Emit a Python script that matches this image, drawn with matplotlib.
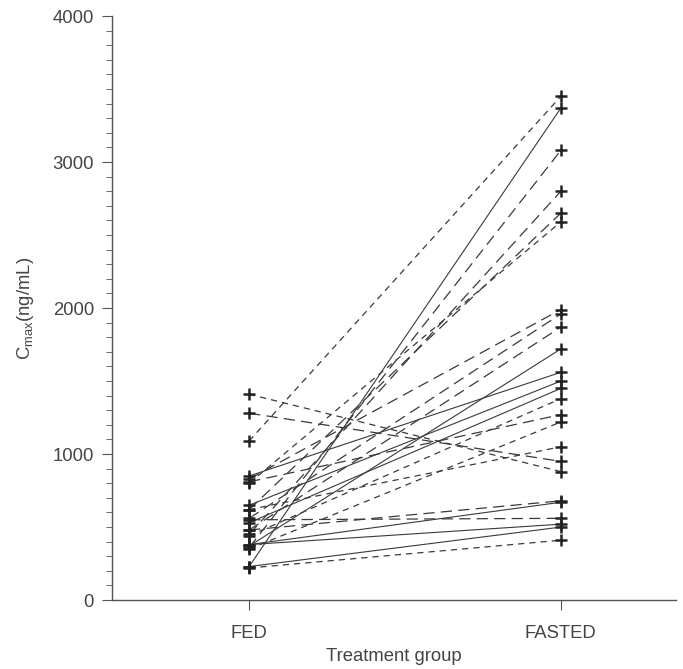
import matplotlib
matplotlib.use("Agg")
import matplotlib.pyplot as plt
from matplotlib.ticker import MultipleLocator

groups = ["FED", "FASTED"]
fed = [1090, 230, 360, 450, 620, 800, 830, 560, 480, 370, 850, 650, 530,
       440, 810, 350, 620, 1280, 1410, 480, 380, 550, 380, 230, 220]
fasted = [3450, 3370, 3080, 2800, 2650, 2590, 1990, 1960, 1870, 1720, 1560,
          1500, 1450, 1380, 1270, 1220, 1050, 950, 880, 680, 670, 560, 520,
          500, 410]
styles = ["short", "solid", "long", "long", "long", "short", "long", "long",
          "long", "solid", "solid", "solid", "solid", "short", "long", "short",
          "short", "long", "short", "long", "solid", "long", "solid", "solid",
          "short"]

plt.rcParams['font.family'] = ['Liberation Sans', 'DejaVu Sans']
fig = plt.figure(figsize=(6.83, 6.69), dpi=100)
ax = fig.add_axes([0.164, 0.103, 0.826, 0.873])

dash_map = {"solid": "-", "short": (0, (5, 4)), "long": (0, (9, 5))}
for a, b, s in zip(fed, fasted, styles):
    ax.plot([0, 1], [a, b], linestyle=dash_map[s], color="#3a3a3a",
            lw=0.8 if s == "solid" else 0.9, zorder=2)
ax.plot([0] * len(fed), fed, '+', color="#222222", ms=8, mew=1.8, zorder=3)
ax.plot([1] * len(fasted), fasted, '+', color="#222222", ms=8, mew=1.8, zorder=3)

ax.set_xlim(-0.44, 1.37)
ax.set_ylim(0, 4000)
ax.set_xticks([0, 1])
ax.set_xticklabels(groups)
ax.set_yticks([0, 1000, 2000, 3000, 4000])
ax.yaxis.set_minor_locator(MultipleLocator(100))
for sp in ["top", "right"]:
    ax.spines[sp].set_visible(False)
for sp in ["left", "bottom"]:
    ax.spines[sp].set_color("#555555")
    ax.spines[sp].set_linewidth(1.0)
ax.tick_params(axis='y', which='major', length=7, color="#555555",
               labelsize=13.3, labelcolor="#444444", pad=6)
ax.tick_params(axis='y', which='minor', length=4, color="#555555")
ax.tick_params(axis='x', which='major', length=7, color="#555555",
               labelsize=13.3, labelcolor="#444444", pad=11)
ax.set_ylabel(r"C$_{\mathregular{max}}$(ng/mL)", fontsize=13.3, color="#444444", labelpad=12)
ax.set_xlabel("Treatment group", fontsize=13.3, color="#444444", labelpad=4)
fig.savefig("out.png", dpi=100)
